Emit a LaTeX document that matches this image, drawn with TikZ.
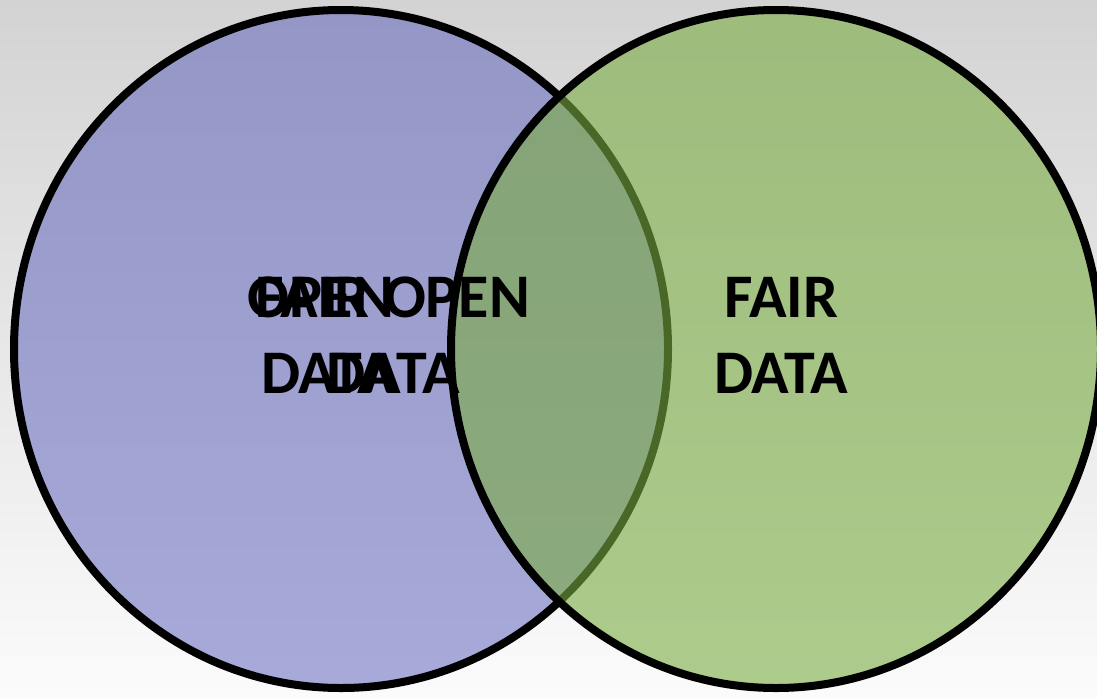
\documentclass[tikz,border=0pt]{standalone}
\usepackage{fontspec}
\setmainfont{Carlito}
\usetikzlibrary{positioning}
\definecolor{bgtop}{RGB}{211,211,211}
\definecolor{bgbot}{RGB}{251,251,251}
\definecolor{openblue}{RGB}{86,90,186}
\definecolor{fairgreen}{RGB}{122,172,66}
\tikzstyle{ring} = [line width=4pt, draw=black]
\tikzstyle{word} = [font=\fontsize{31}{31}\selectfont\bfseries, inner sep=0pt, text=black]

\begin{document}
\begin{tikzpicture}[x=0.5pt,y=-0.5pt]
  \useasboundingbox (0,0) rectangle (1097,697);
  \shade[top color=bgtop, bottom color=bgbot] (0,0) rectangle (1097,697);
  \clip (0,0) rectangle (1097,697);

  % the two sets
  \path[ring, fill=openblue, fill opacity=0.5] (341,349) ellipse [x radius=327, y radius=339];
  \path[fill=fairgreen, fill opacity=0.6] (776,349) ellipse [x radius=325, y radius=339];
  \path[ring] (776,349) ellipse [x radius=325, y radius=339];

  % labels, left
  \node[word] (fairL) at (312,297) {FAIR};
  \node[word] (openA) at (321,297) {OPEN};
  \node[word] (openB) at (457,297) {OPEN};
  \node[word] (dataA) at (328,373) {DATA};
  \node[word] (dataB) at (393,373) {DATA};
  % labels, right
  \node[word] (fairR) at (781,297) {FAIR};
  \node[word] (dataR) at (781,373) {DATA};
\end{tikzpicture}
\end{document}
